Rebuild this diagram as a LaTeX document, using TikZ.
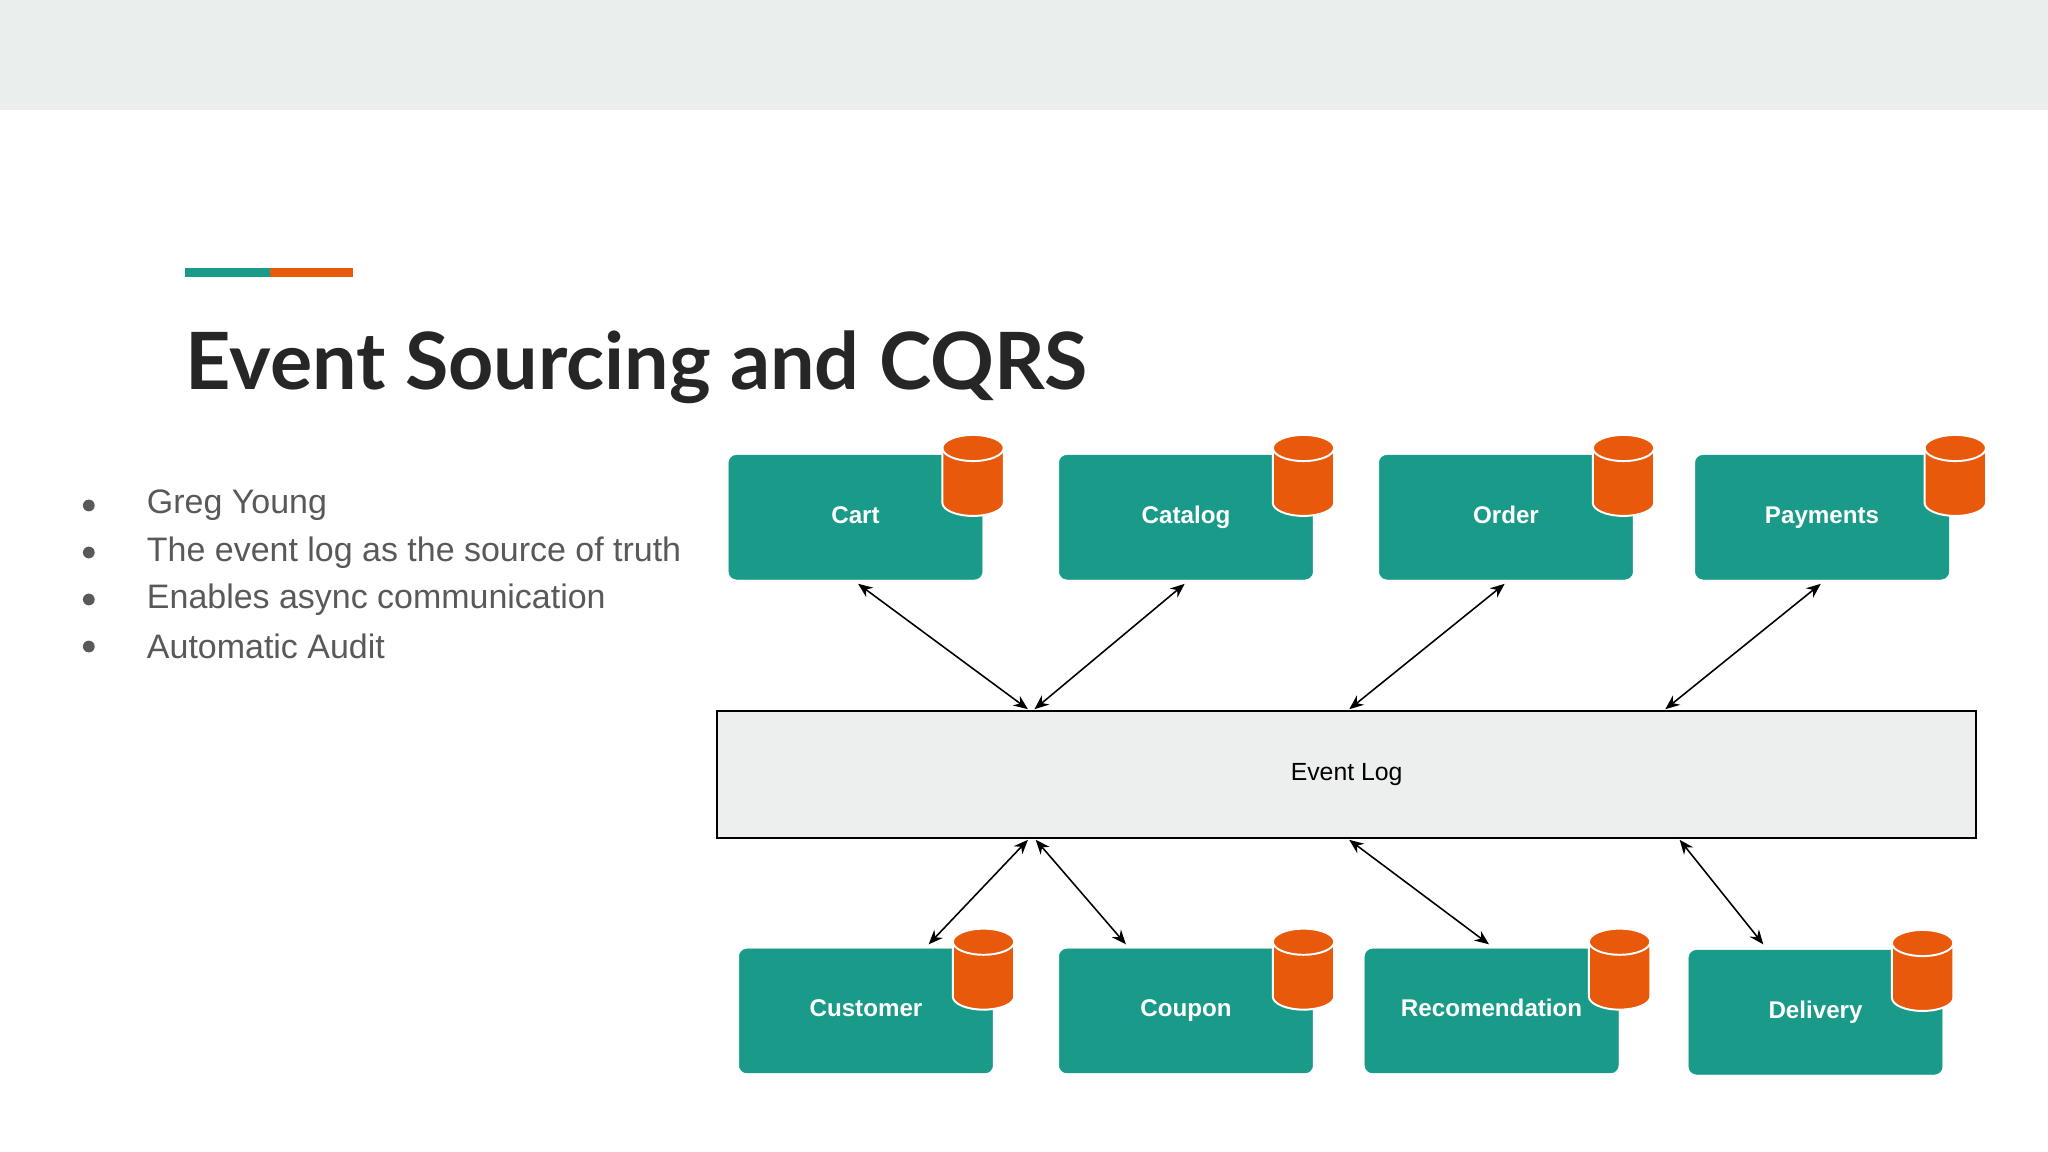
\documentclass[tikz,border=0pt]{standalone}
\usepackage{fontspec}
\setmainfont{Liberation Sans}
\newfontfamily\titlefont{Lato}
\usetikzlibrary{arrows.meta}
\definecolor{band}{RGB}{234,238,237}
\definecolor{teal1}{RGB}{26,155,138}
\definecolor{orange1}{RGB}{232,89,12}
\definecolor{bodygray}{RGB}{89,89,89}
\definecolor{loggray}{RGB}{237,238,238}
\tikzset{
  svc/.style={draw=teal1, fill=teal1, rounded corners=6pt, minimum width=194pt,
    minimum height=95pt, text=white, text height=13pt, text depth=4pt,
    font=\fontsize{18.5}{22}\selectfont\bfseries},
  bul/.style={anchor=west, text=bodygray, font=\fontsize{26}{30}\selectfont},
  link/.style={{Stealth[length=11pt,width=9pt]}-{Stealth[length=11pt,width=9pt]}, line width=1.2pt},
  pics/db/.style={code={
    \fill[orange1, draw=white, line width=1.5pt] (-23.5,-21) -- (-23.5,21)
      arc[start angle=180, end angle=0, x radius=23.5, y radius=10]
      -- (23.5,-21) arc[start angle=0, end angle=-180, x radius=23.5, y radius=10] -- cycle;
    \draw[white, line width=1.5pt] (-23.5,-21) arc[start angle=180, end angle=0, x radius=23.5, y radius=10];
  }}
}
\begin{document}
\begin{tikzpicture}[x=1pt,y=-1pt]
\useasboundingbox (0,0) rectangle (1568,882);
\fill[band] (0,0) rectangle (1568,84);
\fill[teal1] (142,205) rectangle (207,212);
\fill[orange1] (207,205) rectangle (270,212);
\node (title) [anchor=base west, inner sep=0pt, font=\titlefont\fontsize{60.5}{70}\selectfont\bfseries, text=black!85]
  at (142,298) {Event Sourcing and CQRS};
% bullets
\foreach \y/\t [count=\i] in {387/Greg Young,423/The event log as the source of truth,
    459/Enables async communication,495/Automatic Audit}{
  \node (dot\i) [circle, fill=bodygray, inner sep=0pt, minimum size=9pt] at (68,\y) {};
  \node (b\i) [bul] at (109,\y) {\t};
}
% top services
\node (cart) [svc] at (655,396) {Cart};
\node (catalog) [svc] at (908,396) {Catalog};
\node (order) [svc] at (1153,396) {Order};
\node (pay) [svc] at (1395,396) {Payments};
\pic at (745,364) {db};
\pic at (998,364) {db};
\pic at (1243,364) {db};
\pic at (1497,364) {db};
% bottom services
\node (cust) [svc] at (663,774) {Customer};
\node (coupon) [svc] at (908,774) {Coupon};
\node (rec) [svc] at (1142,774) {Recomendation};
\node (deliv) [svc] at (1390,775) {Delivery};
\pic at (753,742) {db};
\pic at (998,742) {db};
\pic at (1240,742) {db};
\pic at (1472,743) {db};
% event log
\node (log) [draw=black, line width=1.3pt, fill=loggray, minimum width=964pt, minimum height=97pt,
  font=\fontsize{19}{22}\selectfont] at (1031,593) {Event Log};
\coordinate (lt1) at (787,543);
\coordinate (lt2) at (792,543);
\coordinate (lt3) at (1033,543);
\coordinate (lt4) at (1275,543);
\coordinate (lb1) at (787,643);
\coordinate (lb2) at (793,643);
\coordinate (lb3) at (1033,643);
\coordinate (lb4) at (1286,643);
\coordinate (s1) at (657,447);
\coordinate (s2) at (907,447);
\coordinate (s3) at (1152,447);
\coordinate (s4) at (1394,447);
\coordinate (t1) at (711,723);
\coordinate (t2) at (862,723);
\coordinate (t3) at (1140,723);
\coordinate (t4) at (1350,723);
\foreach \i in {1,...,4}{
  \draw[link] (s\i) -- (lt\i);
  \draw[link] (lb\i) -- (t\i);
}
\end{tikzpicture}
\end{document}
